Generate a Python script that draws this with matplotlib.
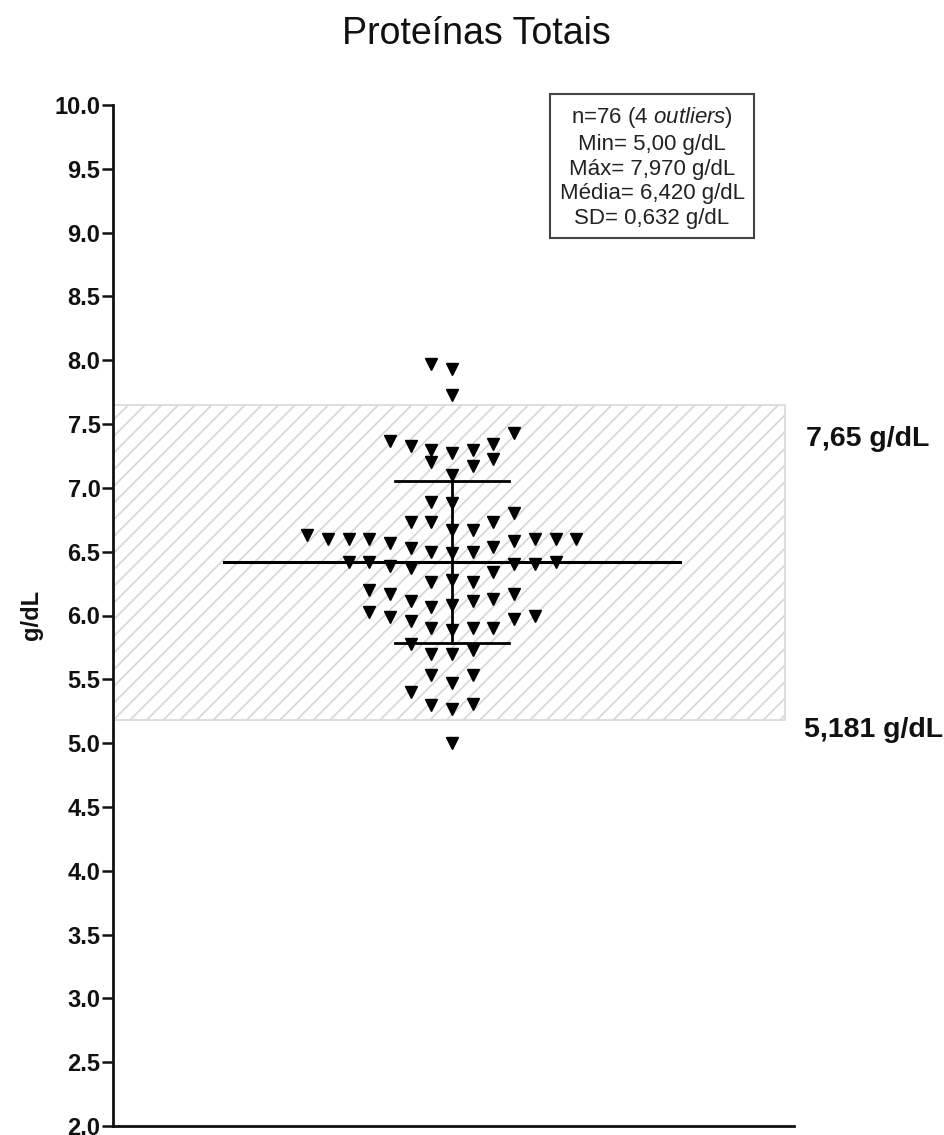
import numpy as np
import matplotlib
matplotlib.use("Agg")
import matplotlib.pyplot as plt
from matplotlib.patches import Rectangle

plt.rcParams["font.family"] = ["Liberation Sans", "DejaVu Sans"]
plt.rcParams["mathtext.fontset"] = "custom"
plt.rcParams["mathtext.rm"] = "Liberation Sans"
plt.rcParams["mathtext.it"] = "Liberation Sans:italic"
plt.rcParams["hatch.color"] = "#bdbdbd"
plt.rcParams["hatch.linewidth"] = 1.3

# total protein values (g/dL), one per animal
valores = [7.97, 7.93, 7.73,
           7.43, 7.37, 7.34, 7.33, 7.30, 7.30, 7.27,
           7.23, 7.20, 7.17, 7.10,
           6.89, 6.88, 6.80,
           6.73, 6.73, 6.73, 6.67, 6.67,
           6.63, 6.60, 6.60, 6.60, 6.57, 6.53, 6.50, 6.49, 6.50, 6.54, 6.58, 6.60, 6.60, 6.60,
           6.42, 6.42, 6.39, 6.37, 6.40, 6.40, 6.42,
           6.34, 6.26, 6.28, 6.26,
           6.20, 6.17, 6.13, 6.17,
           6.11, 6.07, 6.08, 6.11,
           6.03, 5.99, 5.96, 5.97, 6.00,
           5.90, 5.89, 5.90, 5.90,
           5.78, 5.70, 5.70, 5.73,
           5.53, 5.47, 5.53, 5.40,
           5.30, 5.27, 5.31, 5.00]
# horizontal slot of each point in the dot column
coluna = [-1, 0, 0,
          3, -3, 2, -2, -1, 1, 0,
          2, -1, 1, 0,
          -1, 0, 3,
          -2, -1, 2, 0, 1,
          -7, -6, -5, -4, -3, -2, -1, 0, 1, 2, 3, 4, 5, 6,
          -5, -4, -3, -2, 3, 4, 5,
          2, -1, 0, 1,
          -4, -3, 2, 3,
          -2, -1, 0, 1,
          -4, -3, -2, 3, 4,
          -1, 0, 1, 2,
          -2, -1, 0, 1,
          -1, 0, 1, -2,
          -1, 0, 1, 0]

media = 6.420
desvio = 0.632
ref_min = 5.181
ref_max = 7.65
y_ticks = np.arange(2.0, 10.01, 0.5)

W, H = 945, 1135
fig = plt.figure(figsize=(W / 100, H / 100), dpi=100)
ax = fig.add_axes([113 / W, (H - 1126) / H, 681 / W, 1021 / H])

xmin, xmax = -16.38, 16.52
ax.set_xlim(xmin, xmax)
ax.set_ylim(2.0, 10.0)

# reference interval band
faixa = Rectangle((xmin, ref_min), 16.09 - xmin, ref_max - ref_min,
                  facecolor="white", edgecolor="#d8d8d8", linewidth=1.2,
                  hatch="//", zorder=1)
ax.add_patch(faixa)

ax.plot(coluna, valores, linestyle="none", marker="v", markersize=9,
        color="black", zorder=3)

# mean and SD bars
ax.plot([-11, 11], [media, media], color="black", lw=2.2, zorder=4)
ax.plot([0, 0], [media - desvio, media + desvio], color="black", lw=2.0, zorder=4)
for v in (media - desvio, media + desvio):
    ax.plot([-2.75, 2.75], [v, v], color="black", lw=2.0, zorder=4)

for s in ("top", "right"):
    ax.spines[s].set_visible(False)
for s in ("left", "bottom"):
    ax.spines[s].set_linewidth(2.0)
    ax.spines[s].set_color("#111111")

ax.set_xticks([])
ax.set_yticks(y_ticks)
ax.set_yticklabels(["%.1f" % t for t in y_ticks])
ax.tick_params(axis="y", direction="out", length=8, width=1.8, pad=1,
               labelsize=17, colors="#111111")
for lab in ax.get_yticklabels():
    lab.set_fontweight("bold")

fig.text(32 / W, 1 - 615 / H, "g/dL", rotation=90, ha="center", va="center",
         fontsize=17, fontweight="bold", color="#111111")

fig.text(476 / W, 1 - 44 / H, "Proteínas Totais", ha="center", va="baseline",
         fontsize=27, color="#111111")

info = ("n=76 (4 $\\mathit{outliers}$)\n"
        "Min= 5,00 g/dL\n"
        "Máx= 7,970 g/dL\n"
        "Média= 6,420 g/dL\n"
        "SD= 0,632 g/dL")
fig.text(652 / W, 1 - 167 / H, info, ha="center", va="center", fontsize=16,
         color="#222222", linespacing=1.22,
         bbox=dict(boxstyle="square,pad=0.42", facecolor="white",
                   edgecolor="#444444", linewidth=1.5))

fig.text(806 / W, 1 - 439 / H, "7,65 g/dL", ha="left", va="center",
         fontsize=20.5, fontweight="bold", color="#111111")
fig.text(804 / W, 1 - 730 / H, "5,181 g/dL", ha="left", va="center",
         fontsize=20.5, fontweight="bold", color="#111111")

fig.savefig("out.png", dpi=100)
